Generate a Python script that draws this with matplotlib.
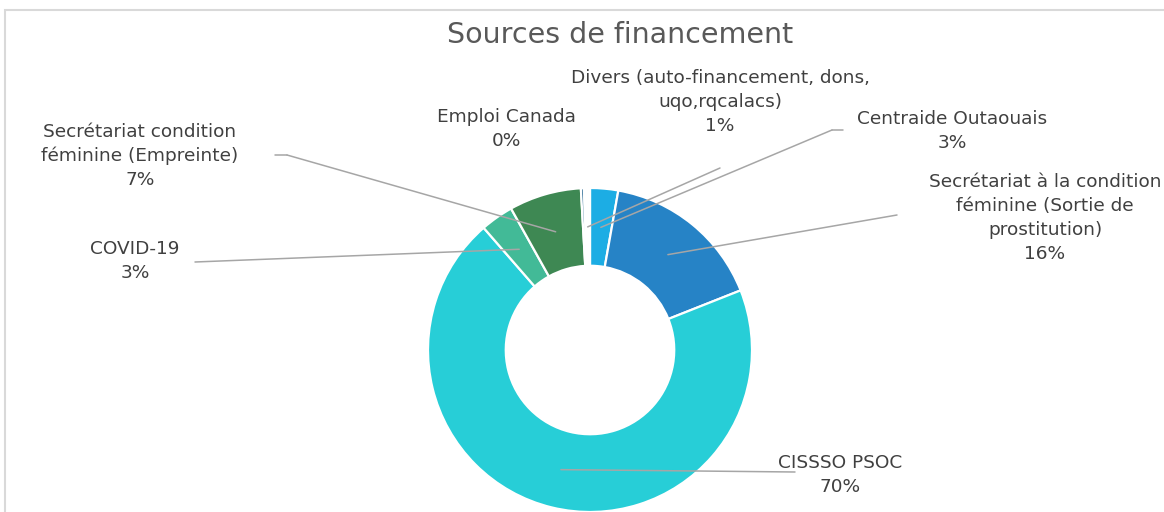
import numpy as np
import matplotlib
matplotlib.use('Agg')
import matplotlib.pyplot as plt
from matplotlib.patches import Rectangle

# données (en %)
sources = ['Centraide Outaouais',
           'Secrétariat à la condition\nféminine (Sortie de\nprostitution)',
           'CISSSO PSOC',
           'COVID-19',
           'Secrétariat condition\nféminine (Empreinte)',
           'Emploi Canada',
           'Divers (auto-financement, dons,\nuqo,rqcalacs)']
valeurs = [2.8, 16.2, 69.6, 3.3, 7.2, 0.3, 0.6]
couleurs = ['#1CADE4', '#2683C6', '#27CED7', '#42BA97', '#3E8853', '#1B5E8C', '#FFFFFF']

# position des étiquettes (pixels, origine en haut à gauche) et départ des traits
etiquettes = [(952, 131), (1045, 218), (840, 475), (135, 261), (140, 156), (506, 129), (720, 102)]
traits = [[(843, 130), (832, 130)], [(897, 215)], [(795, 472)], [(195, 262)],
          [(275, 155), (287, 155)], None, [(720, 168)]]

W, H = 1164, 512
fig = plt.figure(figsize=(W / 100, H / 100), dpi=100)
fig.patch.set_facecolor('white')

# cadre gris du graphique
fig.add_artist(Rectangle((5 / W, -0.1), 1.2, (H - 10) / H + 0.1, transform=fig.transFigure,
                         fill=False, edgecolor='#D9D9D9', linewidth=1.5))

cx, cy, R = 590, 350, 162
ax = fig.add_axes([(cx - R) / W, (H - cy - R) / H, 2 * R / W, 2 * R / H])
ax.axis('off')

largeur = 0.48
wedges, _ = ax.pie(valeurs, colors=couleurs, startangle=90, counterclock=False, radius=1,
                   wedgeprops=dict(width=largeur, edgecolor='white', linewidth=1.6))
ax.set_xlim(-1, 1)
ax.set_ylim(-1, 1)

rmid = 1 - largeur / 2
gris = '#A6A6A6'
for w, nom, v, pos, tr in zip(wedges, sources, valeurs, etiquettes, traits):
    fig.text(pos[0] / W, 1 - pos[1] / H, f'{nom}\n{v:.0f}%', ha='center', va='center',
             fontsize=13.3, color='#404040', linespacing=1.42, family='DejaVu Sans')
    if tr is None:
        continue
    a = np.deg2rad((w.theta1 + w.theta2) / 2)
    cible = (rmid * np.cos(a), rmid * np.sin(a))
    pts = [(x, H - y) for x, y in tr]
    for p0, p1 in zip(pts[:-1], pts[1:]):
        ax.annotate('', xy=p1, xycoords='figure pixels', xytext=p0, textcoords='figure pixels',
                    arrowprops=dict(arrowstyle='-', color=gris, lw=1.1, shrinkA=0, shrinkB=0))
    ax.annotate('', xy=cible, xycoords='data', xytext=pts[-1], textcoords='figure pixels',
                arrowprops=dict(arrowstyle='-', color=gris, lw=1.1, shrinkA=0, shrinkB=0))

fig.text(620 / W, 1 - 35 / H, 'Sources de financement', ha='center', va='center',
         fontsize=20.5, color='#595959', family='DejaVu Sans')

fig.savefig('out.png', dpi=100, facecolor='white')
